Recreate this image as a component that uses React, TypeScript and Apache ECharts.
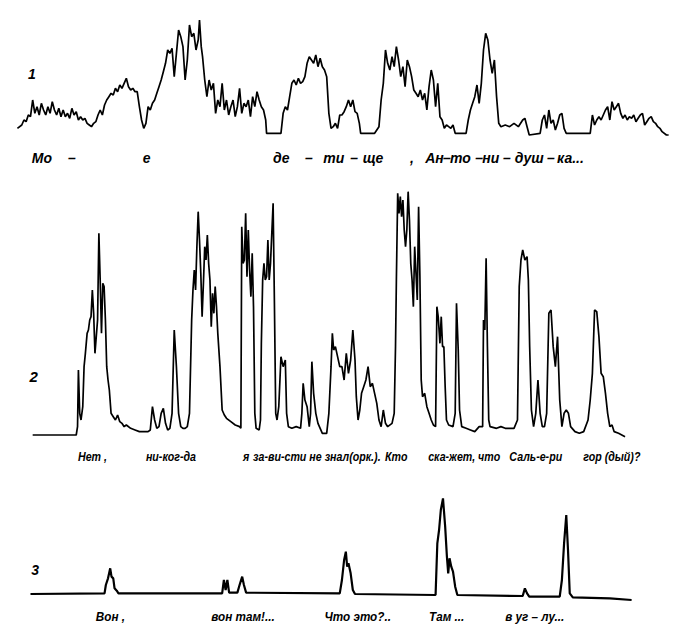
import React, { useEffect, useRef } from 'react';
import * as echarts from 'echarts';

// Trace 1 – [time, amplitude]
const trace1: [number, number][] = [
  [40,15],[50,25],[55,40],[60,35],[65,55],[70,50],[75,100],[80,60],[85,80],[90,55],[95,90],[100,70],[105,55],[110,80],[115,60],[120,95],[125,70],[130,55],[135,75],[140,50],[145,70],[150,50],[155,60],[160,45],[165,75],[170,55],[175,65],[180,40],[185,50],[190,40],[195,45],[200,30],[205,25],[210,20],[215,30],[220,35],[225,55],[230,70],[235,55],[240,85],[245,100],[250,110],[255,120],[260,115],[265,135],[270,125],[275,145],[280,135],[285,150],[290,165],[295,140],[300,130],[305,135],[310,125],[315,125],[320,80],[325,40],[330,15],[335,30],[340,80],[345,70],[350,90],[355,100],[360,120],[365,140],[370,160],[375,185],[380,210],[385,250],[390,240],[395,255],[400,170],[405,240],[410,310],[415,290],[420,260],[425,160],[430,220],[435,325],[440,290],[445,300],[450,250],[455,280],[458,340],[462,260],[465,230],[470,160],[475,110],[480,160],[485,130],[490,150],[495,60],[500,100],[505,80],[510,150],[515,70],[520,100],[525,55],[530,80],[535,100],[540,50],[545,80],[550,135],[555,60],[560,90],[565,80],[570,100],[575,50],[580,110],[585,80],[590,125],[595,100],[600,80],[605,70],[610,40],[612,0],[645,0],[650,60],[655,80],[660,70],[665,110],[670,150],[675,160],[680,145],[685,165],[690,150],[695,155],[700,170],[705,210],[710,230],[715,220],[720,210],[725,235],[730,200],[735,225],[740,200],[745,190],[750,170],[755,60],[760,15],[765,20],[770,30],[775,15],[780,55],[785,55],[790,65],[795,80],[800,100],[805,80],[810,100],[815,65],[820,60],[825,30],[828,0],[860,0],[870,20],[875,100],[880,150],[885,250],[890,210],[895,190],[900,230],[905,200],[910,260],[915,220],[920,170],[925,200],[930,140],[935,220],[940,200],[945,170],[950,130],[955,120],[960,110],[965,130],[970,100],[975,120],[980,70],[985,140],[990,190],[995,160],[1000,80],[1005,150],[1010,50],[1015,40],[1020,15],[1025,25],[1030,20],[1035,15],[1040,25],[1045,0],[1070,0],[1075,40],[1080,70],[1085,90],[1090,110],[1095,145],[1100,90],[1105,150],[1110,250],[1115,300],[1120,280],[1125,220],[1130,180],[1135,220],[1140,110],[1145,30],[1150,20],[1160,25],[1170,20],[1180,30],[1190,20],[1200,40],[1205,45],[1210,20],[1215,-5],[1240,0],[1245,40],[1250,55],[1255,15],[1260,70],[1265,30],[1270,40],[1275,10],[1280,30],[1285,55],[1290,60],[1295,15],[1300,0],[1355,0],[1360,55],[1365,25],[1370,40],[1375,50],[1380,40],[1385,55],[1390,70],[1395,80],[1400,40],[1405,95],[1410,70],[1415,80],[1420,90],[1425,60],[1430,45],[1435,55],[1440,40],[1445,50],[1450,45],[1455,55],[1460,35],[1465,45],[1470,55],[1475,60],[1480,25],[1485,35],[1490,45],[1495,50],[1500,35],[1505,30],[1510,20],[1515,15],[1520,5],[1530,-5],[1535,-5]
];

// Trace 2
const trace2: [number, number][] = [
  [75,0],[175,0],[178,25],[180,195],[183,65],[186,45],[190,85],[193,205],[196,245],[200,305],[203,315],[206,345],[209,355],[212,435],[215,365],[218,245],[221,295],[224,345],[227,605],[230,465],[233,305],[236,455],[239,445],[242,345],[245,205],[248,165],[251,135],[255,65],[260,55],[265,45],[270,60],[275,40],[280,35],[285,25],[290,30],[300,20],[310,15],[320,10],[340,10],[345,15],[350,85],[355,45],[360,20],[365,25],[370,65],[375,80],[380,35],[385,15],[390,20],[395,65],[400,315],[405,205],[410,65],[415,25],[420,20],[425,20],[430,25],[435,65],[440,345],[443,435],[446,495],[449,435],[452,565],[455,670],[458,585],[461,485],[464,355],[467,455],[470,565],[473,525],[476,600],[479,515],[482,465],[485,325],[488,425],[491,365],[494,445],[497,385],[500,305],[505,205],[510,75],[515,60],[520,50],[530,40],[540,30],[550,25],[553,20],[555,625],[558,515],[561,525],[564,665],[567,475],[570,615],[573,495],[576,415],[579,545],[582,385],[585,65],[588,20],[595,15],[598,45],[600,275],[603,465],[606,515],[609,465],[612,475],[615,585],[618,465],[621,515],[624,605],[627,695],[630,395],[633,65],[636,45],[640,85],[645,235],[650,205],[655,225],[658,65],[662,25],[670,20],[680,25],[690,20],[693,65],[696,155],[700,105],[705,85],[710,25],[713,65],[716,220],[720,125],[725,65],[730,35],[740,5],[750,5],[755,65],[760,205],[763,305],[766,255],[770,265],[775,235],[780,205],[785,205],[790,165],[795,245],[800,185],[805,225],[810,315],[815,225],[818,115],[822,45],[826,75],[830,125],[835,145],[840,165],[845,205],[850,145],[855,155],[860,125],[865,95],[870,45],[875,25],[880,75],[885,35],[890,25],[900,35],[905,65],[908,265],[910,465],[913,725],[916,665],[919,715],[922,655],[925,705],[928,615],[931,565],[934,615],[937,730],[940,645],[943,515],[946,465],[949,385],[952,565],[955,485],[958,405],[961,685],[964,475],[967,165],[970,115],[975,125],[980,85],[985,65],[990,45],[995,30],[1000,25],[1003,385],[1006,355],[1010,275],[1013,355],[1016,265],[1019,265],[1022,145],[1025,45],[1030,30],[1040,25],[1045,65],[1048,395],[1052,255],[1055,75],[1060,25],[1070,20],[1080,15],[1090,10],[1100,25],[1108,25],[1110,345],[1113,315],[1116,530],[1119,265],[1122,45],[1125,25],[1140,20],[1150,25],[1160,20],[1180,20],[1188,45],[1192,445],[1196,525],[1200,555],[1205,525],[1210,535],[1213,465],[1216,265],[1220,75],[1225,25],[1230,65],[1235,165],[1240,65],[1245,25],[1250,25],[1255,65],[1260,365],[1265,375],[1270,265],[1275,205],[1280,295],[1285,105],[1290,25],[1295,65],[1300,75],[1305,65],[1310,25],[1320,10],[1330,5],[1340,10],[1350,45],[1355,105],[1360,185],[1365,375],[1370,370],[1375,295],[1380,185],[1385,175],[1390,125],[1395,65],[1400,25],[1405,30],[1410,10],[1420,5],[1435,-5]
];

// Trace 3
const trace3: [number, number][] = [
  [70,23],[240,25],[243,50],[248,70],[253,100],[256,75],[260,70],[263,40],[268,33],[272,25],[510,25],[514,65],[518,35],[522,65],[526,27],[545,27],[550,50],[556,75],[560,50],[565,27],[780,25],[785,65],[790,125],[794,150],[797,105],[800,115],[805,85],[810,35],[815,23],[1000,20],[1004,175],[1008,215],[1012,275],[1017,310],[1022,225],[1026,135],[1029,85],[1032,130],[1036,105],[1040,90],[1045,45],[1050,20],[1200,17],[1205,40],[1210,25],[1215,15],[1285,15],[1290,65],[1295,175],[1300,260],[1304,155],[1308,25],[1315,13],[1400,10],[1450,5]
];

// Syllables under each trace and the times they sit at
const words1 = ['Мо', '–', 'е', 'де', '–', 'ти', '–', 'ще', ',', 'Ан', '–', 'то', '–', 'ни', '–', 'душ', '–', 'ка...'];
const wordTimes1 = [73, 156, 328, 627, 700, 742, 804, 833, 941, 976, 1017, 1033, 1091, 1107, 1155, 1182, 1256, 1279];

const words2 = ['Нет ,', 'ни-ког-да', 'я', 'за-ви-сти не знал(орк.).', 'Кто', 'ска-жет, что', 'Саль-е-ри', 'гор (дый)?'];
const wordTimes2 = [179, 335, 558, 581, 884, 983, 1169, 1339];

const words3 = ['Вон ,', 'вон там!...', 'Что это?..', 'Там ...', 'в уг – лу...'];
const wordTimes3 = [220, 485, 745, 985, 1160];

const panelNames = ['1', '2', '3'];
const panelNameTimes = [64, 68, 72];
const panelNameAmps = [178, 174, 95];
const wordAmps = [-74, -65, -45];

const FONT = '"Liberation Sans", "DejaVu Sans", sans-serif';

export default function App() {
  const ref = useRef<HTMLDivElement>(null);
  useEffect(() => {
    if (!ref.current) return;
    const chart = echarts.init(ref.current, undefined, { renderer: 'svg' });
    const grids = [
      { left: 0, right: 0, top: 20, height: 116.67 },
      { left: 0, right: 0, top: 188.33, height: 250 },
      { left: 0, right: 0, top: 495, height: 106.67 },
    ];
    const yRanges = [
      [-10, 340],
      [-10, 740],
      [0, 320],
    ];
    const traces = [trace1, trace2, trace3];
    const lineWidths = [1.7, 1.7, 2.2];
    const option: any = {
      animation: false,
      backgroundColor: '#fff',
      grid: grids,
      xAxis: grids.map((_, i) => ({ type: 'value', gridIndex: i, min: 0, max: 1568, show: false })),
      yAxis: grids.map((_, i) => ({ type: 'value', gridIndex: i, min: yRanges[i][0], max: yRanges[i][1], show: false })),
      series: traces.map((d, i) => ({
        type: 'line',
        xAxisIndex: i,
        yAxisIndex: i,
        data: d,
        symbol: 'none',
        silent: true,
        lineStyle: { color: '#000', width: lineWidths[i] },
      })),
    };
    chart.setOption(option);

    const textStyle = (size: number) => ({
      fill: '#000',
      fontSize: size,
      fontStyle: 'italic',
      fontWeight: 'bold',
      fontFamily: FONT,
      align: 'left',
      textAlign: 'left',
      verticalAlign: 'middle',
      textVerticalAlign: 'middle',
    });
    const allWords = [words1, words2, words3];
    const allTimes = [wordTimes1, wordTimes2, wordTimes3];
    const sizes = [14, 13, 13];
    const squeeze = [1, 0.82, 0.9];
    const elements: any[] = [];
    allWords.forEach((ws, g) => {
      ws.forEach((w, k) => {
        const p = chart.convertToPixel({ gridIndex: g } as any, [allTimes[g][k], wordAmps[g]]) as number[];
        elements.push({
          type: 'text',
          x: p[0],
          y: p[1],
          scaleX: squeeze[g],
          silent: true,
          style: { text: w, ...textStyle(sizes[g]) },
        });
      });
      const q = chart.convertToPixel({ gridIndex: g } as any, [panelNameTimes[g], panelNameAmps[g]]) as number[];
      elements.push({
        type: 'text',
        x: q[0],
        y: q[1],
        silent: true,
        style: { text: panelNames[g], ...textStyle(g === 1 ? 15 : 14) },
      });
    });
    chart.setOption({ graphic: elements });
    return () => chart.dispose();
  }, []);
  return (
    <div
      ref={ref}
      style={{ position: 'absolute', left: 0, top: 0, width: 683, height: 644, background: '#fff' }}
    />
  );
}
